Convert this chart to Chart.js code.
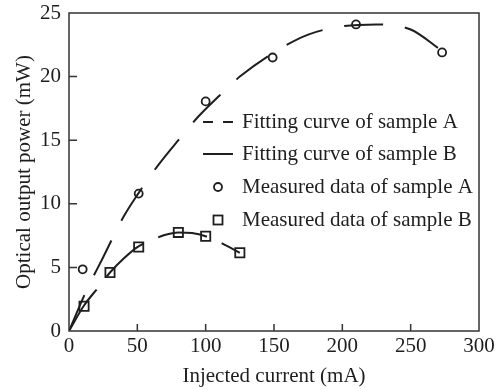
<!DOCTYPE html>
<html>
<head>
<meta charset="utf-8">
<script src="https://cdn.jsdelivr.net/npm/chart.js@4.4.0/dist/chart.umd.min.js"></script>
<style>
  html, body { margin: 0; padding: 0; background: #fff; }
  #wrap { width: 501px; height: 389px; }
</style>
</head>
<body>
<div id="wrap"><canvas id="chart" width="501" height="389"></canvas></div>
<script>
// fitting curves
const curveAX = [0, 12, 25, 40, 50, 65, 80, 95, 110, 125, 150, 175, 200, 225, 250, 272];
const curveAY = [0, 3.0, 5.8, 9.0, 10.7, 13.0, 15.0, 16.9, 18.5, 20.0, 21.9, 23.3, 23.95, 24.1, 23.7, 22.1];
const curveBX = [0, 11, 22, 30, 40, 50, 60, 70, 80, 90, 100, 110, 118, 125];
const curveBY = [0, 2.0, 3.5, 4.6, 5.7, 6.6, 7.1, 7.55, 7.75, 7.7, 7.45, 7.0, 6.55, 6.15];

// measured points
const measAX = [10, 51, 100, 149, 210, 273];
const measAY = [4.85, 10.8, 18.05, 21.5, 24.1, 21.9];
const measBX = [11, 30, 51, 80, 100, 125];
const measBY = [1.95, 4.6, 6.6, 7.75, 7.45, 6.15];

const xTicks = [0, 50, 100, 150, 200, 250, 300];
const yTicks = [0, 5, 10, 15, 20, 25];

const legendLabels = [
  "Fitting curve of sample A",
  "Fitting curve of sample B",
  "Measured data of sample A",
  "Measured data of sample B"
];

const ink = "#1e1e1e";
const serif = "'Liberation Serif', 'Times New Roman', serif";

const toPoints = (xs, ys) => xs.map((x, i) => ({ x: x, y: ys[i] }));

// frame, inward ticks and the legend box inside the plot
const framePlugin = {
  id: "frame",
  afterDraw(chart) {
    const { ctx, chartArea: a, scales } = chart;
    ctx.save();
    ctx.strokeStyle = "#333";
    ctx.lineWidth = 1.5;
    ctx.strokeRect(a.left, a.top, a.right - a.left, a.bottom - a.top);

    ctx.beginPath();
    xTicks.slice(1, -1).forEach((v) => {
      const px = scales.x.getPixelForValue(v);
      ctx.moveTo(px, a.bottom);
      ctx.lineTo(px, a.bottom - 7);
    });
    yTicks.slice(1, -1).forEach((v) => {
      const py = scales.y.getPixelForValue(v);
      ctx.moveTo(a.left, py);
      ctx.lineTo(a.left + 8, py);
    });
    ctx.stroke();

    // legend
    const rows = [122, 154, 187, 220];
    const x0 = 203, x1 = 233, xm = 218;
    ctx.strokeStyle = ink;
    ctx.lineWidth = 2;

    ctx.setLineDash([10, 10]);
    ctx.beginPath();
    ctx.moveTo(x0, rows[0]);
    ctx.lineTo(x1, rows[0]);
    ctx.stroke();
    ctx.setLineDash([]);

    ctx.beginPath();
    ctx.moveTo(x0, rows[1]);
    ctx.lineTo(x1, rows[1]);
    ctx.stroke();

    ctx.lineWidth = 1.8;
    ctx.beginPath();
    ctx.arc(xm, rows[2], 4, 0, Math.PI * 2);
    ctx.stroke();
    ctx.strokeRect(xm - 4.5, rows[3] - 4.5, 9, 9);

    ctx.fillStyle = ink;
    ctx.font = "21px " + serif;
    ctx.textBaseline = "middle";
    ctx.textAlign = "left";
    legendLabels.forEach((t, i) => ctx.fillText(t, 242, rows[i]));
    ctx.restore();
  }
};

new Chart(document.getElementById("chart"), {
  type: "scatter",
  data: {
    datasets: [
      {
        label: legendLabels[0],
        type: "line",
        data: toPoints(curveAX, curveAY),
        borderColor: ink,
        borderWidth: 2,
        borderDash: [39, 22],
        pointRadius: 0,
        fill: false,
        cubicInterpolationMode: "monotone"
      },
      {
        label: legendLabels[1],
        type: "line",
        data: toPoints(curveBX, curveBY),
        borderColor: ink,
        borderWidth: 2,
        borderDash: [50, 16],
        pointRadius: 0,
        fill: false,
        cubicInterpolationMode: "monotone"
      },
      {
        label: legendLabels[2],
        data: toPoints(measAX, measAY),
        pointStyle: "circle",
        pointRadius: 4,
        borderColor: ink,
        borderWidth: 1.8,
        backgroundColor: "rgba(0,0,0,0)"
      },
      {
        label: legendLabels[3],
        data: toPoints(measBX, measBY),
        pointStyle: "rect",
        pointRadius: 6.5,
        borderColor: ink,
        borderWidth: 1.8,
        backgroundColor: "rgba(0,0,0,0)"
      }
    ]
  },
  options: {
    responsive: false,
    animation: false,
    layout: { padding: { top: 13, right: 22, left: 0, bottom: 0 } },
    plugins: {
      legend: { display: false },
      tooltip: { enabled: false }
    },
    scales: {
      x: {
        type: "linear",
        min: 0,
        max: 300,
        afterBuildTicks: (s) => { s.ticks = xTicks.map((v) => ({ value: v })); },
        afterFit: (s) => { s.height = 58; s.paddingLeft = 0; s.paddingRight = 0; },
        grid: { display: false, drawTicks: false },
        border: { display: false },
        ticks: { color: ink, padding: 3, font: { family: serif, size: 21 } },
        title: {
          display: true,
          text: "Injected current (mA)",
          color: ink,
          padding: { top: 0, bottom: 0 },
          font: { family: serif, size: 21 }
        }
      },
      y: {
        type: "linear",
        min: 0,
        max: 25,
        afterBuildTicks: (s) => { s.ticks = yTicks.map((v) => ({ value: v })); },
        afterFit: (s) => { s.width = 69; s.paddingTop = 0; s.paddingBottom = 0; },
        grid: { display: false, drawTicks: false },
        border: { display: false },
        ticks: { color: ink, padding: 8, font: { family: serif, size: 21 } },
        title: {
          display: true,
          text: "Optical output power (mW)",
          color: ink,
          padding: { top: 12, bottom: 0 },
          font: { family: serif, size: 21 }
        }
      }
    }
  },
  plugins: [framePlugin]
});
</script>
</body>
</html>
